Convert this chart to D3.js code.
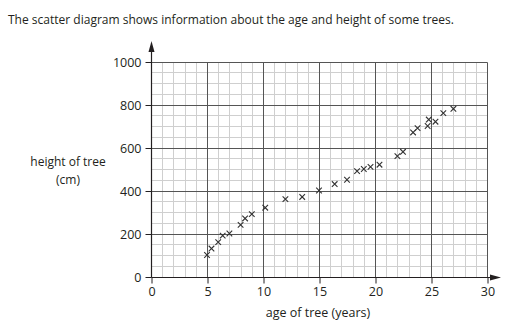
<!DOCTYPE html>
<html>
<head>
<meta charset="utf-8">
<script src="https://cdn.jsdelivr.net/npm/d3@7"></script>
<style>
  body { margin: 0; background: #fff; }
  svg { display: block; font-family: "Open Sans", "Noto Sans", sans-serif; }
</style>
</head>
<body>
<div id="plot"></div>
<script>
// data
const ages = [5, 5.4, 6, 6.4, 7, 8, 8.4, 9, 10.2, 12, 13.5, 15, 16.4, 17.5, 18.4, 19, 19.6, 20.4,
  22, 22.5, 23.4, 23.8, 24.7, 24.8, 25.4, 26.1, 27];
const heights = [100, 130, 160, 190, 200, 240, 270, 290, 320, 360, 370, 400, 430, 450, 490, 500, 510, 520,
  560, 580, 670, 690, 700, 730, 720, 760, 780];
const xTicks = [0, 5, 10, 15, 20, 25, 30];
const yTicks = [0, 200, 400, 600, 800, 1000];

const W = 521, H = 325;

const svg = d3.select("#plot").append("svg")
  .attr("width", W)
  .attr("height", H);

const x = d3.scaleLinear().domain([0, 30]).range([151, 487]);
const y = d3.scaleLinear().domain([0, 1000]).range([276.5, 61.5]);
const px = v => Math.round(x(v)) + 0.5;
const py = v => Math.round(y(v)) + 0.5;

// title
const title = svg.append("text")
  .attr("x", 8)
  .attr("y", 24)
  .attr("font-size", 13)
  .attr("fill", "#231f20")
  .text("The scatter diagram shows information about the age and height of some trees.");
if (title.node().getComputedTextLength() > 446) {
  title.attr("textLength", 446).attr("lengthAdjust", "spacingAndGlyphs");
}

// grid: minor lines first, then major
const grid = svg.append("g");
const minorX = d3.range(0, 31, 1).filter(v => v % 5 !== 0);
const minorY = d3.range(0, 1001, 50).filter(v => v % 200 !== 0);

grid.selectAll(".mx").data(minorX).join("line")
  .attr("x1", px).attr("x2", px)
  .attr("y1", py(0)).attr("y2", py(1000))
  .attr("stroke", "#cfcfcf").attr("stroke-width", 1);
grid.selectAll(".my").data(minorY).join("line")
  .attr("x1", px(0)).attr("x2", px(30))
  .attr("y1", py).attr("y2", py)
  .attr("stroke", "#cfcfcf").attr("stroke-width", 1);

grid.selectAll(".Mx").data(xTicks.slice(1)).join("line")
  .attr("x1", px).attr("x2", px)
  .attr("y1", py(0)).attr("y2", py(1000))
  .attr("stroke", "#555").attr("stroke-width", 1);
grid.selectAll(".My").data(yTicks.slice(1)).join("line")
  .attr("x1", px(0)).attr("x2", px(30))
  .attr("y1", py).attr("y2", py)
  .attr("stroke", "#555").attr("stroke-width", 1);

// axes
const xAxis = d3.axisBottom(x).tickValues(xTicks).tickSize(6).tickPadding(4)
  .tickFormat(d3.format("d"));
const yAxis = d3.axisLeft(y).tickValues(yTicks).tickSize(6).tickPadding(4)
  .tickFormat(d3.format("d"));

const gx = svg.append("g")
  .attr("transform", `translate(0.5,${py(0)})`)
  .call(xAxis);
gx.select(".domain").remove();
gx.selectAll("text").attr("font-size", 12.5).attr("fill", "#231f20")
  .attr("font-family", "'Open Sans', 'Noto Sans', sans-serif");
gx.selectAll("line").attr("stroke", "#231f20");

const gy = svg.append("g")
  .attr("transform", `translate(${px(0)},0.5)`)
  .call(yAxis);
gy.select(".domain").remove();
gy.selectAll("text").attr("font-size", 12.5).attr("fill", "#231f20")
  .attr("font-family", "'Open Sans', 'Noto Sans', sans-serif");
gy.selectAll("line").attr("stroke", "#231f20");

// axis lines with arrows
svg.append("line")
  .attr("x1", px(0)).attr("x2", px(0))
  .attr("y1", py(0)).attr("y2", 50)
  .attr("stroke", "#231f20").attr("stroke-width", 1.2);
svg.append("path")
  .attr("d", `M${px(0)},41 L${px(0) - 3},52 L${px(0) + 3},52 Z`)
  .attr("fill", "#231f20");

svg.append("line")
  .attr("x1", px(0)).attr("x2", 492)
  .attr("y1", py(0)).attr("y2", py(0))
  .attr("stroke", "#231f20").attr("stroke-width", 1.2);
svg.append("path")
  .attr("d", `M501,${py(0)} L490,${py(0) - 3} L490,${py(0) + 3} Z`)
  .attr("fill", "#231f20");

// axis titles
svg.append("text")
  .attr("x", 318).attr("y", 317)
  .attr("text-anchor", "middle")
  .attr("font-size", 12.5).attr("fill", "#231f20")
  .text("age of tree (years)");

svg.append("text")
  .attr("x", 68).attr("y", 166)
  .attr("text-anchor", "middle")
  .attr("font-size", 12).attr("fill", "#231f20")
  .text("height of tree");
svg.append("text")
  .attr("x", 68).attr("y", 184)
  .attr("text-anchor", "middle")
  .attr("font-size", 12).attr("fill", "#231f20")
  .text("(cm)");

// crosses
const pts = ages.map((a, i) => ({age: a, height: heights[i]}));
const s = 2.8;
svg.append("g").selectAll("path").data(pts).join("path")
  .attr("d", d => {
    const cx = x(d.age), cy = y(d.height);
    return `M${cx - s},${cy - s}L${cx + s},${cy + s}M${cx - s},${cy + s}L${cx + s},${cy - s}`;
  })
  .attr("stroke", "#333")
  .attr("stroke-width", 1.1)
  .attr("fill", "none");
</script>
</body>
</html>
